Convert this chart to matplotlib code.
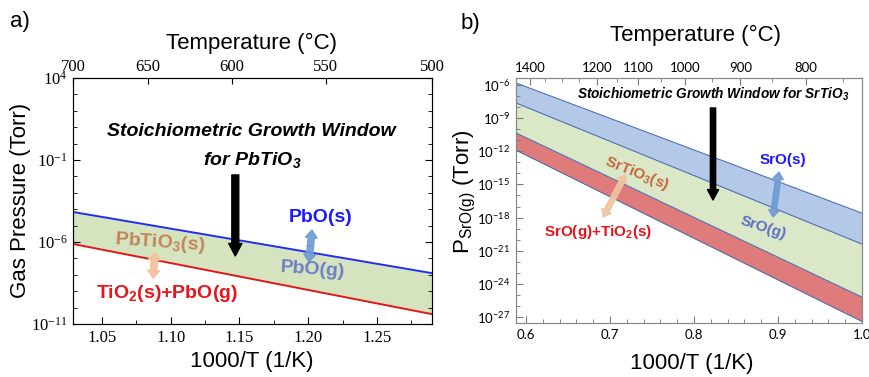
import numpy as np
import matplotlib
matplotlib.use('Agg')
import matplotlib.pyplot as plt
from matplotlib.ticker import FixedLocator, FuncFormatter, MultipleLocator, NullFormatter

plt.rcParams['font.family'] = ['Liberation Sans', 'DejaVu Sans']
plt.rcParams['font.serif'] = ['Liberation Serif', 'DejaVu Serif']
plt.rcParams['mathtext.default'] = 'regular'

# --- data ---
# a) PbTiO3 window: log10 pressure (Torr) at the two ends of the 1000/T range
inv_T_a = [1.029, 1.290]
log_p_pbo = [-4.17, -7.9]      # PbO(s) / PbO(g) boundary
log_p_tio2 = [-6.12, -10.4]    # PbTiO3(s) / TiO2(s)+PbO(g) boundary
temp_ticks_a = [700, 650, 600, 550, 500]
yticks_a = [4, -1, -6, -11]

# b) SrTiO3 window
inv_T_b = [0.588, 1.0]
log_sro_upper = [-5.82, -17.6]
log_sro_s = [-7.63, -20.4]     # SrO(s) / SrO(g)
log_sto = [-10.34, -25.2]      # SrTiO3(s) / SrO(g)+TiO2(s)
log_lower = [-11.9, -27.4]
temp_ticks_b = [1400, 1200, 1100, 1000, 900, 800]
temp_minor_b = list(range(750, 1451, 50))
yticks_b = [-6, -9, -12, -15, -18, -21, -24, -27]

W, H = 869, 377
fig = plt.figure(figsize=(W / 100, H / 100), dpi=100)


def box(l, r, t, b):
    return [l / W, 1 - b / H, (r - l) / W, (b - t) / H]


def to_inv(T):
    return 1000.0 / (np.asarray(T, dtype=float) + 273.15)


def pow10(v, pos=None):
    return r'$10^{%d}$' % round(np.log10(v))


def dbl_arrow(ax, p1, p2, color, tail=0.45, hw=0.85, hl=0.55, alpha=1.0):
    mid = ((p1[0] + p2[0]) / 2, np.sqrt(p1[1] * p2[1]))
    for end in (p1, p2):
        ax.annotate('', xy=end, xytext=mid,
                    arrowprops=dict(arrowstyle='simple,head_width=%g,head_length=%g,tail_width=%g' % (hw, hl, tail),
                                    color=color, alpha=alpha, shrinkA=0, shrinkB=0, mutation_scale=10))


# ================= panel a =================
ax = fig.add_axes(box(73, 432, 78, 324))
x = np.array(inv_T_a)
ax.fill_between(x, 10.0 ** np.array(log_p_tio2), 10.0 ** np.array(log_p_pbo), color='#d5e3bf', lw=0)
ax.plot(x, 10.0 ** np.array(log_p_pbo), color='#1f2ff0', lw=1.4)
ax.plot(x, 10.0 ** np.array(log_p_tio2), color='#e01818', lw=1.4)
ax.set_yscale('log')
ax.set_xlim(inv_T_a)
ax.set_ylim(1e-11, 1e4)
ax.xaxis.set_major_locator(MultipleLocator(0.05))
ax.xaxis.set_minor_locator(MultipleLocator(0.025))
ax.xaxis.set_major_formatter(FuncFormatter(lambda v, p: '%.2f' % v))
ax.yaxis.set_major_locator(FixedLocator([10.0 ** k for k in yticks_a]))
ax.yaxis.set_minor_locator(FixedLocator([10.0 ** k for k in range(-11, 5)]))
ax.yaxis.set_major_formatter(FuncFormatter(pow10))
ax.yaxis.set_minor_formatter(NullFormatter())
ax.tick_params(which='both', direction='in', top=False, right=True, labelsize=12, pad=4,
               labelfontfamily='serif')
ax.tick_params(which='major', length=5)
ax.tick_params(which='minor', length=3)
for s in ax.spines.values():
    s.set_color('#333333')

axt = ax.twiny()
axt.set_xlim(inv_T_a)
axt.set_xticks(to_inv(temp_ticks_a))
axt.set_xticklabels([str(t) for t in temp_ticks_a])
axt.tick_params(direction='in', length=4, pad=2, labelsize=12, labelfontfamily='serif')

fb = dict(fontweight='bold', fontsize=14)
ax.text(1.159, 10 ** 0.71, 'Stoichiometric Growth Window', ha='center', va='center',
        style='italic', **fb)
ax.text(1.159, 10 ** -1.0, 'for PbTiO$_3$', ha='center', va='center', style='italic', **fb)
ax.annotate('', xy=(1.147, 10 ** -6.85), xytext=(1.147, 10 ** -1.91),
            arrowprops=dict(arrowstyle='simple,head_width=0.95,head_length=0.9,tail_width=0.5',
                            color='black', shrinkA=0, shrinkB=0, mutation_scale=10))
ax.text(1.209, 10 ** -4.48, 'PbO(s)', color='#1a1aff', ha='center', va='center', **fb)
dbl_arrow(ax, (1.2027, 10 ** -5.27), (1.2006, 10 ** -7.22), '#6d9bd3', alpha=0.9)
ax.text(1.2035, 10 ** -7.71, 'PbO(g)', color='#6f7fc8', ha='center', va='center', rotation=-4, **fb)
ax.text(1.0923, 10 ** -6.06, 'PbTiO$_3$(s)', color='#c0855a', ha='center', va='center', rotation=-4, **fb)
dbl_arrow(ax, (1.0886, 10 ** -6.61), (1.0872, 10 ** -8.2), '#f2c4a0')
ax.text(1.0973, 10 ** -9.11, 'TiO$_2$(s)+PbO(g)', color='#e8141c', ha='center', va='center', **fb)

# ================= panel b =================
bx = fig.add_axes(box(516, 862, 78, 323))
xb = np.array(inv_T_b)
up, s1, s2, lo = [10.0 ** np.array(v) for v in (log_sro_upper, log_sro_s, log_sto, log_lower)]
bx.fill_between(xb, s1, up, color='#b3c9e7', lw=0)
bx.fill_between(xb, s2, s1, color='#dbe8c8', lw=0)
bx.fill_between(xb, lo, s2, color='#e07b7b', lw=0)
for yy in (up, s1, s2, lo):
    bx.plot(xb, yy, color='#4f6fb0', lw=0.8)
bx.set_yscale('log')
bx.set_xlim(inv_T_b)
bx.set_ylim(10 ** -27.54, 10 ** -5.37)
bx.xaxis.set_major_locator(MultipleLocator(0.1))
bx.xaxis.set_minor_locator(MultipleLocator(0.02))
bx.xaxis.set_major_formatter(FuncFormatter(lambda v, p: '%.1f' % v))
bx.yaxis.set_major_locator(FixedLocator([10.0 ** k for k in yticks_b]))
bx.yaxis.set_minor_locator(FixedLocator([10.0 ** k for k in range(-27, -5)]))
bx.yaxis.set_major_formatter(FuncFormatter(pow10))
bx.yaxis.set_minor_formatter(NullFormatter())
bx.tick_params(which='both', direction='in', color='#777777', labelsize=9.5, pad=4,
               labelfontfamily='Lato')
bx.tick_params(which='major', length=5)
bx.tick_params(which='minor', length=3)
for s in bx.spines.values():
    s.set_color('#888888')

bxt = bx.twiny()
bxt.set_xlim(inv_T_b)
bxt.set_xticks(to_inv(temp_ticks_b))
bxt.set_xticks(to_inv(temp_minor_b), minor=True)
bxt.set_xticklabels([str(t) for t in temp_ticks_b])
bxt.tick_params(which='both', direction='in', color='#777777', pad=3, labelsize=9.5,
                labelfontfamily='Lato')
bxt.tick_params(which='major', length=5)
bxt.tick_params(which='minor', length=3)
for s in bxt.spines.values():
    s.set_color('#888888')

fs = dict(fontweight='bold', fontsize=11)
bx.text(0.8226, 10 ** -6.82, 'Stoichiometric Growth Window for SrTiO$_3$', ha='center', va='center',
        style='italic', fontweight='bold', fontsize=9.8)
bx.annotate('', xy=(0.8226, 10 ** -16.41), xytext=(0.8226, 10 ** -8.08),
            arrowprops=dict(arrowstyle='simple,head_width=0.8,head_length=0.75,tail_width=0.38',
                            color='black', shrinkA=0, shrinkB=0, mutation_scale=10))
bx.text(0.906, 10 ** -12.79, 'SrO(s)', color='#1a1aff', ha='center', va='center', **fs)
dbl_arrow(bx, (0.9012, 10 ** -13.88), (0.894, 10 ** -17.95), '#6d9bd3', tail=0.38, hw=0.75, hl=0.5, alpha=0.9)
bx.text(0.882, 10 ** -18.94, 'SrO(g)', color='#5b6fc8', ha='center', va='center', rotation=-18, **fs)
bx.text(0.732, 10 ** -13.97, 'SrTiO$_3$(s)', color='#c8643c', ha='center', va='center', rotation=-22, **fs)
dbl_arrow(bx, (0.718, 10 ** -14.15), (0.692, 10 ** -17.95), '#f0c4a0', tail=0.38, hw=0.75, hl=0.5, alpha=0.9)
bx.text(0.6856, 10 ** -19.31, 'SrO(g)+TiO$_2$(s)', color='#e8141c', ha='center', va='center', **fs)

# ================= figure-level labels =================
def ftext(px, py, s, **kw):
    fig.text(px / W, 1 - py / H, s, ha='center', va='center', **kw)


ftext(20, 22, 'a)', fontsize=16)
ftext(470, 24, 'b)', fontsize=16)
ftext(252, 43, 'Temperature (°C)', fontsize=16)
ftext(696, 35, 'Temperature (°C)', fontsize=16)
ftext(252, 361, '1000/T (1/K)', fontsize=16)
ftext(692, 364, '1000/T (1/K)', fontsize=16)
ftext(21, 200, 'Gas Pressure (Torr)', fontsize=16, rotation=90)
ftext(465, 192, 'P$_{SrO(g)}$ (Torr)', fontsize=16, rotation=90)

fig.savefig('out.png', dpi=100)
